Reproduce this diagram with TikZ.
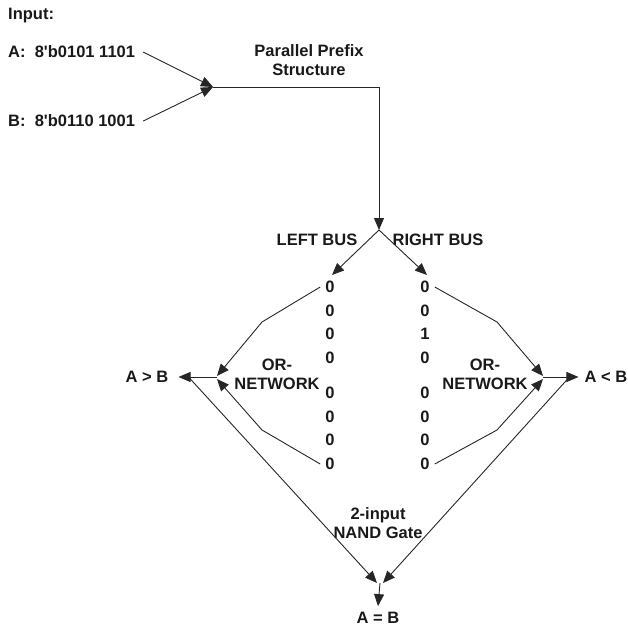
\documentclass[tikz,border=0pt]{standalone}
\usepackage{fontspec}
\setmainfont{Liberation Sans}
\usetikzlibrary{arrows.meta}
\begin{document}
\begin{tikzpicture}[x=1pt,y=-1pt,
  lab/.style={font=\fontsize{16.5}{19}\selectfont\bfseries, text=black!90, inner sep=0pt, align=center},
  dig/.style={lab, inner xsep=5pt},
  wire/.style={draw=black!85, line width=0.9pt},
  arr/.style={wire, -{Triangle[length=12pt,width=10pt]}}]
\useasboundingbox (0,0) rectangle (627,629);
% inputs
\node[lab, anchor=west] (inp) at (8,16) {Input:};
\node[lab, anchor=west] (A) at (8,52) {A:\ \ 8\textquotesingle b0101 1101};
\node[lab, anchor=west] (B) at (8,121) {B:\ \ 8\textquotesingle b0110 1001};
\node[lab] (pps) at (309,60) {Parallel Prefix\\Structure};
\coordinate (m) at (213,87);
\coordinate (c) at (379,87);
\coordinate (s) at (379,230);
\draw[arr] ([xshift=8pt]A.east) -- (m);
\draw[arr] ([xshift=8pt]B.east) -- (m);
\draw[arr] (m) -- (c) -- (s);
% buses
\node[lab] (lbus) at (317,240) {LEFT BUS};
\node[lab] (rbus) at (438,240) {RIGHT BUS};
\coordinate (lb) at (332,275);
\coordinate (rb) at (427,275);
\draw[arr] (s) -- (lb);
\draw[arr] (s) -- (rb);
% digits
\foreach \i/\y/\lv/\rv in {1/287/0/0,2/311/0/0,3/334/0/1,4/358/0/0,5/393/0/0,6/417/0/0,7/440/0/0,8/464/0/0}{
  \node[dig] (l\i) at (330,\y) {\lv};
  \node[dig] (r\i) at (425,\y) {\rv};
}
% OR networks
\node[lab] (orl) at (277,374) {OR-\\NETWORK};
\node[lab] (orr) at (485,374) {OR-\\NETWORK};
\coordinate (lk1) at (262,322);
\coordinate (lk2) at (262,430);
\coordinate (lo) at (217,377);
\coordinate (rk1) at (497,322);
\coordinate (rk2) at (497,430);
\coordinate (ro) at (543,377);
\draw[arr] (l1.west) -- (lk1) -- ([yshift=1pt]lo);
\draw[arr] (l8.west) -- (lk2) -- ([yshift=-2pt]lo);
\draw[arr] (r1.east) -- (rk1) -- ([yshift=1pt]ro);
\draw[arr] (r8.east) -- (rk2) -- ([yshift=-2pt]ro);
% outputs
\node[lab] (gt) at (147,377) {A > B};
\node[lab] (lt) at (606,377) {A < B};
\draw[arr] (lo) -- ([xshift=10pt]gt.east);
\draw[arr] (ro) -- ([xshift=-6pt]lt.west);
% NAND
\node[lab] (nand) at (378,523) {2-input\\NAND Gate};
\node[lab] (eq) at (378,618) {A = B};
\coordinate (ej) at (380,583);
\draw[arr] ([xshift=20pt]gt.east) -- ([xshift=-3pt]ej);
\draw[arr] ([xshift=-15pt]lt.west) -- ([xshift=3pt]ej);
\draw[arr] (ej) -- ([yshift=6pt]eq.north);
\end{tikzpicture}
\end{document}
